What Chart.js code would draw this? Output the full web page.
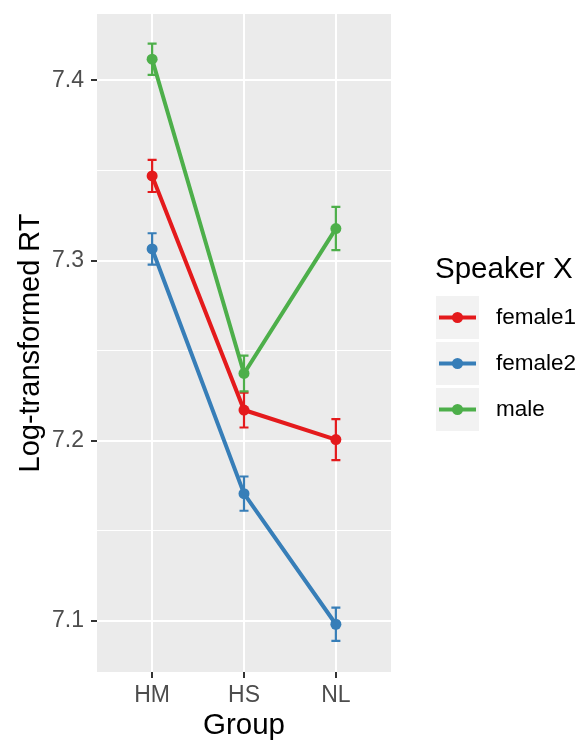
<!DOCTYPE html>
<html>
<head>
<meta charset="utf-8">
<script src="https://cdn.jsdelivr.net/npm/chart.js@4.4.1/dist/chart.umd.min.js"></script>
<style>
  html, body { margin: 0; padding: 0; background: #ffffff; }
  canvas { display: block; }
</style>
</head>
<body>
<canvas id="chart" width="585" height="740"></canvas>
<script>
// Groups on the x axis
const groups = ['HM', 'HS', 'NL'];

// Mean log-transformed RT per speaker, with standard errors
const female1Mean = [7.3470, 7.2171, 7.2007];
const female1Se   = [0.0089, 0.0097, 0.0114];
const female2Mean = [7.3065, 7.1707, 7.0982];
const female2Se   = [0.0087, 0.0095, 0.0092];
const maleMean    = [7.4118, 7.2374, 7.3178];
const maleSe      = [0.0087, 0.0099, 0.0120];

// Axis ticks
const yMajorTicks = [7.1, 7.2, 7.3, 7.4];
const yMinorTicks = [7.15, 7.25, 7.35];

const speakers = [
  { label: 'female1', color: '#E41A1C', mean: female1Mean, se: female1Se },
  { label: 'female2', color: '#377EB8', mean: female2Mean, se: female2Se },
  { label: 'male',    color: '#4DAF4A', mean: maleMean,    se: maleSe }
];

const FONT = '"Liberation Sans", Arial, sans-serif';

const isMinor = v => Math.round(v * 100) % 10 !== 0;

// grey panel behind the gridlines
const panelBackground = {
  id: 'panelBackground',
  beforeDraw(chart) {
    const { ctx, chartArea: a } = chart;
    ctx.save();
    ctx.fillStyle = '#EBEBEB';
    ctx.fillRect(a.left, a.top, a.right - a.left, a.bottom - a.top);
    ctx.restore();
  }
};

// mean +/- SE whiskers with caps
const errorBars = {
  id: 'errorBars',
  beforeDatasetsDraw(chart) {
    const { ctx, scales: { x, y } } = chart;
    chart.data.datasets.forEach(ds => {
      ds.data.forEach(p => {
        const px = x.getPixelForValue(p.x);
        const top = y.getPixelForValue(p.y + p.se);
        const bot = y.getPixelForValue(p.y - p.se);
        ctx.save();
        ctx.strokeStyle = ds.borderColor;
        ctx.lineWidth = 2.2;
        ctx.beginPath();
        ctx.moveTo(px, top); ctx.lineTo(px, bot);
        ctx.moveTo(px - 4.5, top); ctx.lineTo(px + 4.5, top);
        ctx.moveTo(px - 4.5, bot); ctx.lineTo(px + 4.5, bot);
        ctx.stroke();
        ctx.restore();
      });
    });
  }
};

// legend with title and grey key boxes on the right
const keyLegend = {
  id: 'keyLegend',
  afterDraw(chart) {
    const { ctx } = chart;
    const x0 = 436, y0 = 296, size = 43, pitch = 46;
    ctx.save();
    ctx.fillStyle = '#000000';
    ctx.font = '29.5px ' + FONT;
    ctx.textAlign = 'left';
    ctx.textBaseline = 'alphabetic';
    ctx.fillText('Speaker X', 435, 278);
    chart.data.datasets.forEach((ds, i) => {
      const top = y0 + i * pitch;
      const cy = top + size / 2;
      ctx.fillStyle = '#F2F2F2';
      ctx.fillRect(x0, top, size, size);
      ctx.strokeStyle = ds.borderColor;
      ctx.lineWidth = 4;
      ctx.beginPath();
      ctx.moveTo(x0 + 3, cy);
      ctx.lineTo(x0 + size - 3, cy);
      ctx.stroke();
      ctx.fillStyle = ds.borderColor;
      ctx.beginPath();
      ctx.arc(x0 + size / 2, cy, 5.5, 0, Math.PI * 2);
      ctx.fill();
      ctx.fillStyle = '#000000';
      ctx.font = '22.5px ' + FONT;
      ctx.textBaseline = 'middle';
      ctx.fillText(ds.label, 496, cy);
    });
    ctx.restore();
  }
};

const datasets = speakers.map(s => ({
  label: s.label,
  data: s.mean.map((m, i) => ({ x: i + 1, y: m, se: s.se[i] })),
  borderColor: s.color,
  backgroundColor: s.color,
  pointBackgroundColor: s.color,
  pointBorderWidth: 0,
  pointRadius: 5.5,
  borderWidth: 4,
  tension: 0,
  fill: false
}));

new Chart(document.getElementById('chart'), {
  type: 'line',
  data: { datasets },
  plugins: [panelBackground, errorBars, keyLegend],
  options: {
    responsive: false,
    animation: false,
    layout: { padding: { top: 14, right: 194, bottom: 0, left: 0 } },
    plugins: { legend: { display: false }, tooltip: { enabled: false } },
    scales: {
      x: {
        type: 'linear',
        min: 0.4,
        max: 3.6,
        afterBuildTicks: s => { s.ticks = groups.map((g, i) => ({ value: i + 1 })); },
        afterFit: s => { s.height = 68; s.paddingLeft = 0; s.paddingRight = 0; },
        border: { display: false },
        grid: {
          color: '#FFFFFF',
          lineWidth: 2,
          tickColor: '#333333',
          tickLength: 6,
          tickWidth: 2
        },
        ticks: {
          autoSkip: false,
          maxRotation: 0,
          padding: 4,
          color: '#4D4D4D',
          font: { family: FONT, size: 23 },
          callback: v => groups[Math.round(v) - 1]
        },
        title: {
          display: true,
          text: 'Group',
          color: '#000000',
          font: { family: FONT, size: 29.5, lineHeight: 1 },
          padding: { top: 0, bottom: -1 }
        }
      },
      y: {
        type: 'linear',
        min: 7.0717,
        max: 7.4369,
        afterBuildTicks: s => {
          s.ticks = [...yMajorTicks, ...yMinorTicks].sort((a, b) => a - b).map(v => ({ value: v }));
        },
        afterFit: s => { s.width = 97; s.paddingTop = 0; s.paddingBottom = 0; },
        border: { display: false },
        grid: {
          color: '#FFFFFF',
          lineWidth: c => (c.tick && isMinor(c.tick.value)) ? 1 : 2,
          tickColor: c => (c.tick && isMinor(c.tick.value)) ? 'rgba(0,0,0,0)' : '#333333',
          tickLength: 6,
          tickWidth: 2
        },
        ticks: {
          autoSkip: false,
          padding: 7,
          color: '#4D4D4D',
          font: { family: FONT, size: 23 },
          callback: v => isMinor(v) ? '' : v.toFixed(1)
        },
        title: {
          display: true,
          text: 'Log-transformed RT',
          color: '#000000',
          font: { family: FONT, size: 29, lineHeight: 1 },
          padding: { top: 16, bottom: 0 }
        }
      }
    }
  }
});
</script>
</body>
</html>
